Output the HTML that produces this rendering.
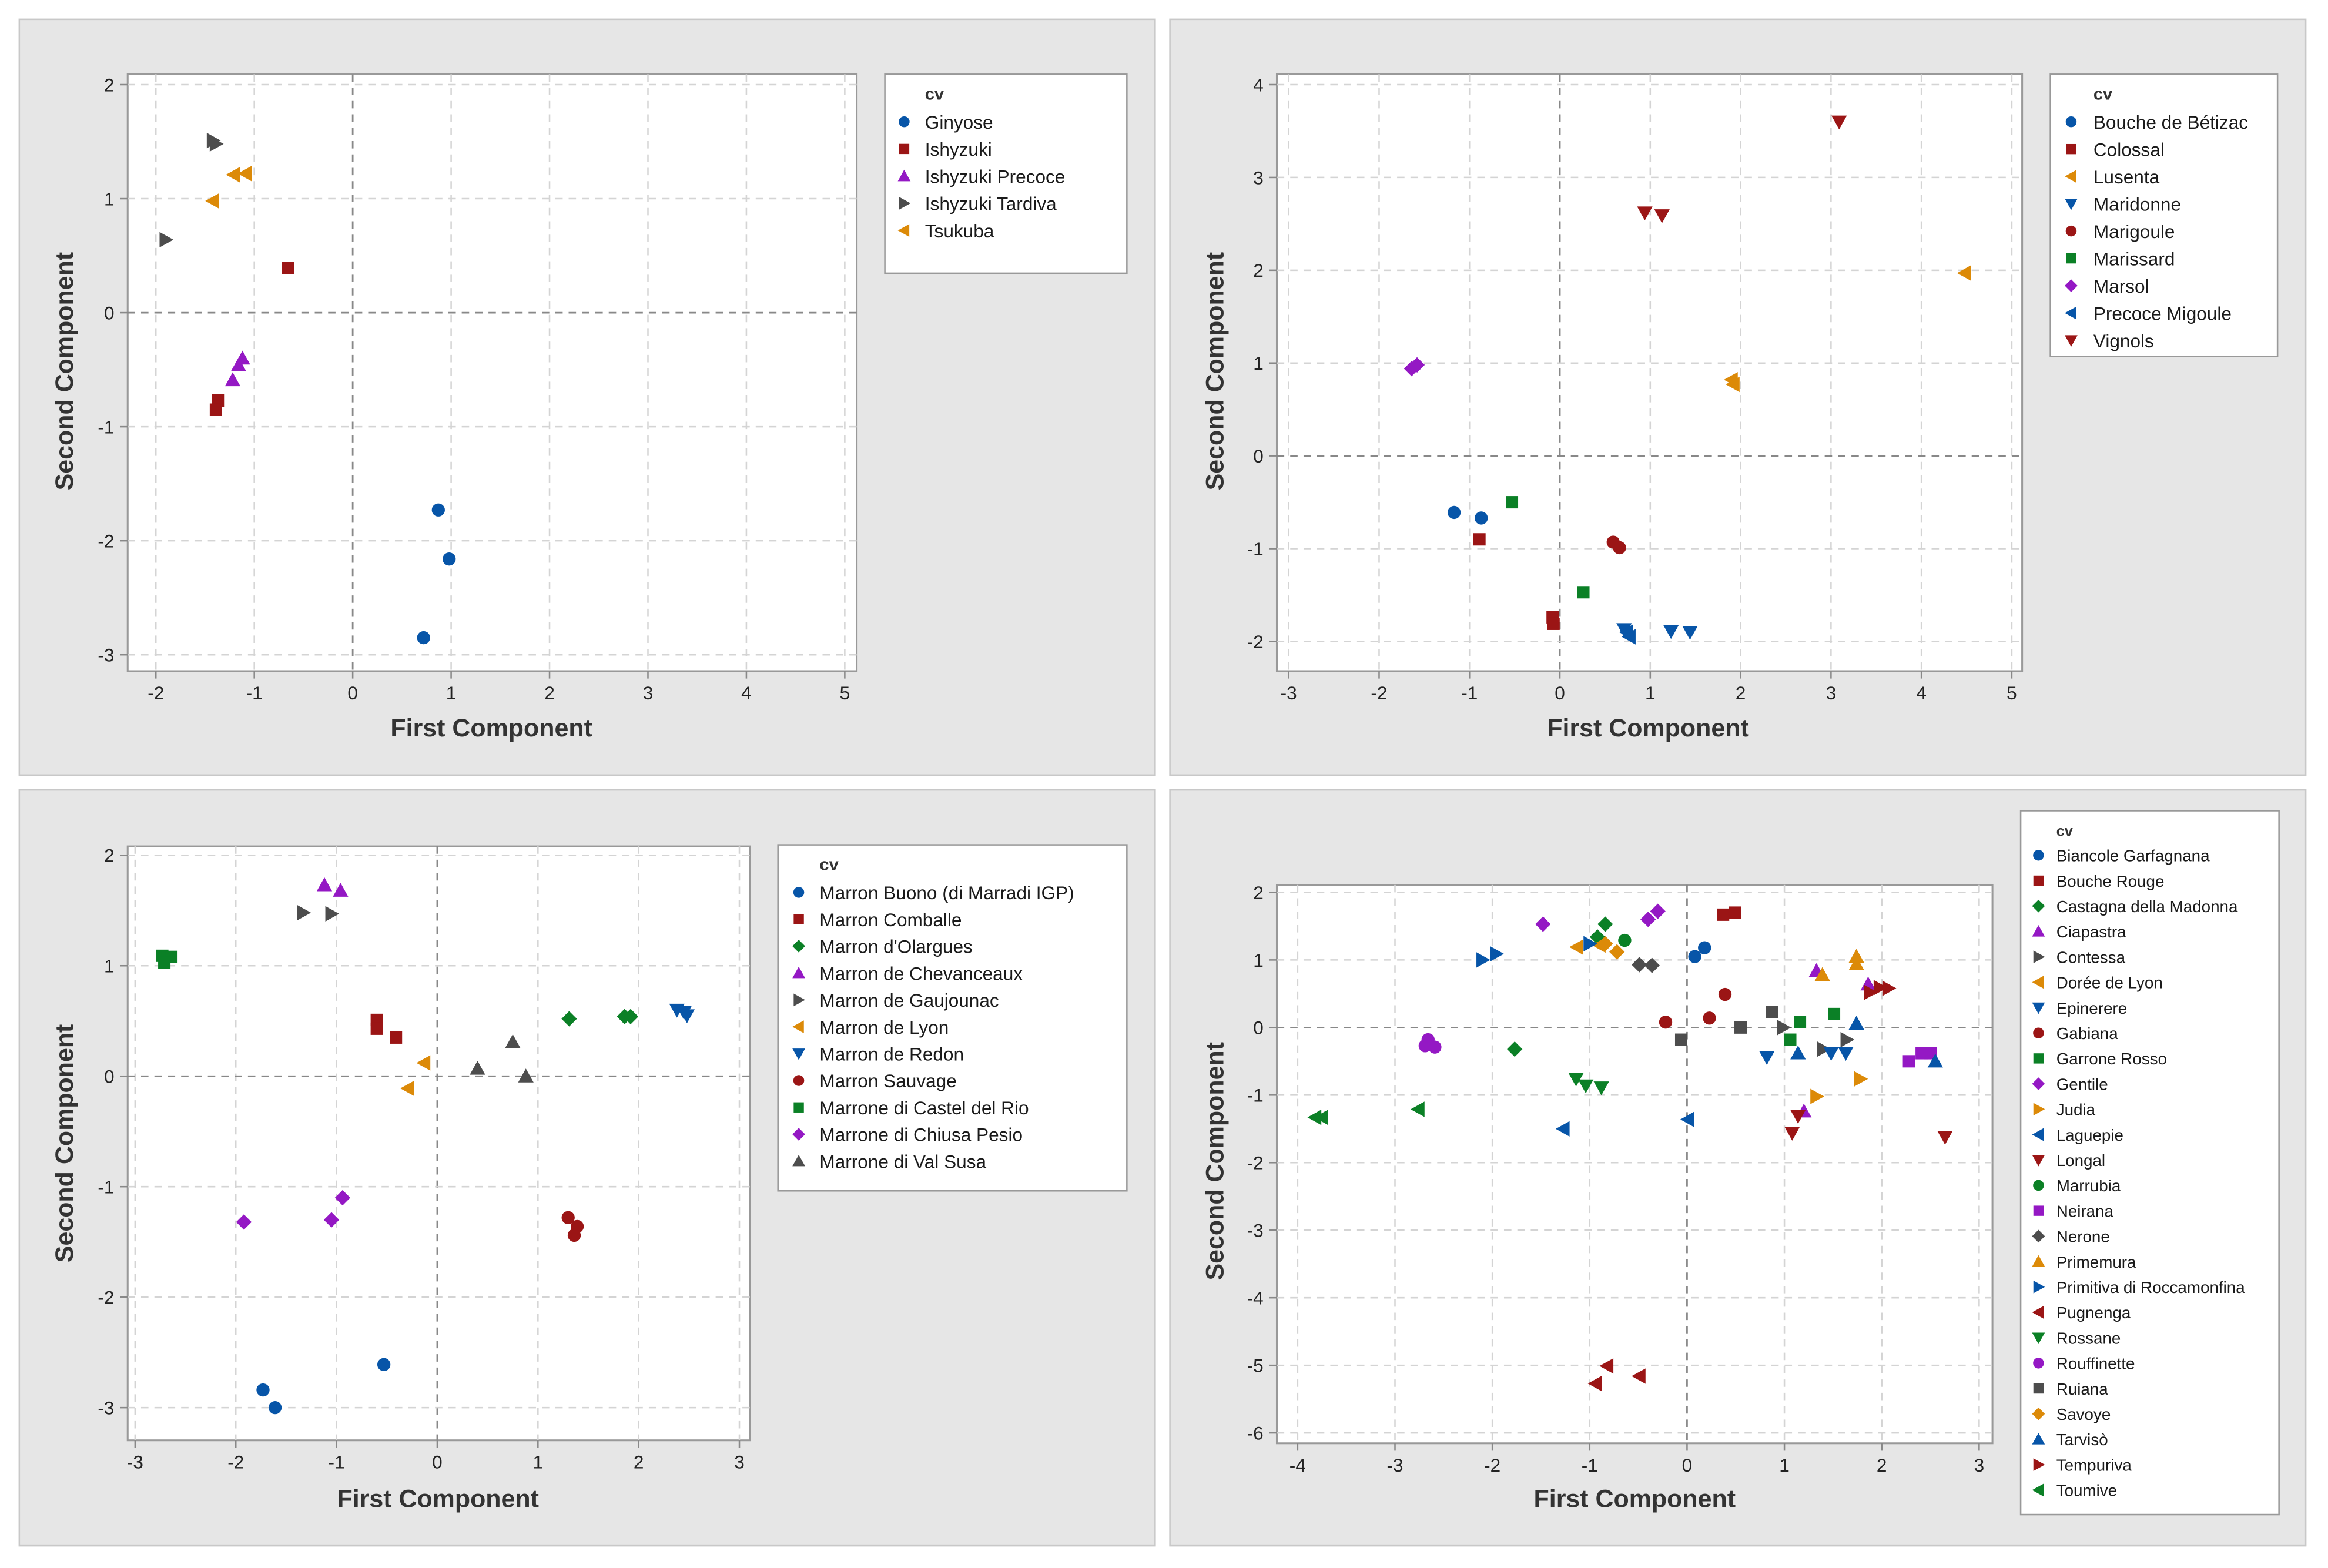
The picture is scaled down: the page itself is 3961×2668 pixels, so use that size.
<!DOCTYPE html>
<html><head><meta charset="utf-8"><style>
html,body{margin:0;padding:0;background:#fff}
svg{display:block}
text{font-family:"Liberation Sans",sans-serif}
</style></head><body>
<svg id="root" width="3961" height="2668" viewBox="0 0 1568 1056" preserveAspectRatio="none" xmlns="http://www.w3.org/2000/svg"></svg>
<script>
// ---------- Panel 1 data ----------
const p1Names = ["Ginyose","Ishyzuki","Ishyzuki Precoce","Ishyzuki Tardiva","Tsukuba"];
const p1X = [[0.87,0.98,0.72],[-0.66,-1.37,-1.39],[-1.12,-1.16,-1.22],[-1.42,-1.39,-1.90],[-1.21,-1.09,-1.42]];
const p1Y = [[-1.73,-2.16,-2.85],[0.39,-0.77,-0.85],[-0.40,-0.46,-0.59],[1.51,1.48,0.64],[1.21,1.22,0.98]];
const p1XTicks = [-2,-1,0,1,2,3,4,5];
const p1YTicks = [-3,-2,-1,0,1,2];
// ---------- Panel 2 data ----------
const p2Names = ["Bouche de Bétizac","Colossal","Lusenta","Maridonne","Marigoule","Marissard","Marsol","Precoce Migoule","Vignols"];
const p2X = [[-1.17,-0.87],[-0.89,-0.08,-0.07],[4.48,1.90,1.92],[0.71,1.23,1.44],[0.59,0.66],[-0.53,0.26],[-1.64,-1.58],[0.74,0.77],[3.09,0.94,1.13]];
const p2Y = [[-0.61,-0.67],[-0.90,-1.74,-1.81],[1.97,0.82,0.77],[-1.87,-1.89,-1.90],[-0.93,-0.99],[-0.50,-1.47],[0.94,0.98],[-1.90,-1.95],[3.60,2.62,2.59]];
const p2XTicks = [-3,-2,-1,0,1,2,3,4,5];
const p2YTicks = [-2,-1,0,1,2,3,4];
// ---------- Panel 3 data ----------
const p3Names = ["Marron Buono (di Marradi IGP)","Marron Comballe","Marron d'Olargues","Marron de Chevanceaux","Marron de Gaujounac","Marron de Lyon","Marron de Redon","Marron Sauvage","Marrone di Castel del Rio","Marrone di Chiusa Pesio","Marrone di Val Susa"];
const p3X = [[-0.53,-1.73,-1.61],[-0.60,-0.60,-0.41],[1.31,1.86,1.92],[-1.12,-0.96],[-1.33,-1.05],[-0.13,-0.29],[2.38,2.45,2.48],[1.30,1.39,1.36],[-2.73,-2.64,-2.71],[-1.92,-1.05,-0.94],[0.40,0.75,0.88]];
const p3Y = [[-2.61,-2.84,-3.0],[0.51,0.43,0.35],[0.52,0.54,0.54],[1.73,1.68],[1.48,1.47],[0.12,-0.11],[0.60,0.58,0.55],[-1.28,-1.36,-1.44],[1.09,1.08,1.03],[-1.32,-1.30,-1.10],[0.07,0.31,0.0]];
const p3XTicks = [-3,-2,-1,0,1,2,3];
const p3YTicks = [-3,-2,-1,0,1,2];
// ---------- Panel 4 data ----------
const p4Names = ["Biancole Garfagnana","Bouche Rouge","Castagna della Madonna","Ciapastra","Contessa","Dorée de Lyon","Epinerere","Gabiana","Garrone Rosso","Gentile","Judia","Laguepie","Longal","Marrubia","Neirana","Nerone","Primemura","Primitiva di Roccamonfina","Pugnenga","Rossane","Rouffinette","Ruiana","Savoye","Tarvisò","Tempuriva","Toumive"];
const p4X = [[0.08,0.18],[0.37,0.49],[-0.84,-0.92,-1.77],[1.33,1.86,1.20],[0.99,1.64,1.40],[-1.13,-0.90],[0.82,1.48,1.63],[0.39,0.23,-0.22],[1.16,1.51,1.06],[-1.48,-0.40,-0.30],[1.78,1.33],[-1.27,0.01],[1.14,1.08,2.65],[-0.64],[2.28,2.41,2.50],[-0.49,-0.36],[1.39,1.74,1.74],[-1.0,-2.10,-1.96],[-0.82,-0.94,-0.49],[-1.14,-1.04,-0.88],[-2.69,-2.59,-2.66],[0.87,0.55,-0.06],[-0.84,-0.72],[1.74,1.14,2.55],[1.98,2.07,1.88],[-3.82,-3.75,-2.76]];
const p4Y = [[1.05,1.18],[1.67,1.70],[1.53,1.34,-0.32],[0.84,0.64,-1.24],[0.0,-0.18,-0.32],[1.19,1.22],[-0.44,-0.38,-0.38],[0.49,0.14,0.08],[0.08,0.20,-0.18],[1.53,1.60,1.72],[-0.76,-1.02],[-1.50,-1.36],[-1.31,-1.56,-1.62],[1.29],[-0.50,-0.38,-0.38],[0.93,0.92],[0.78,0.94,1.05],[1.24,1.0,1.09],[-5.01,-5.27,-5.16],[-0.76,-0.86,-0.89],[-0.27,-0.29,-0.18],[0.23,0.0,-0.18],[1.24,1.12],[0.06,-0.38,-0.50],[0.59,0.58,0.52],[-1.33,-1.33,-1.21]];
const p4XTicks = [-4,-3,-2,-1,0,1,2,3];
const p4YTicks = [-6,-5,-4,-3,-2,-1,0,1,2];

const C = {b:"#0755a8",r:"#9b1515",g:"#0b8026",p:"#9418c4",k:"#4d4d4d",o:"#dc8a08"};
const p1Sty = [["b","circle"],["r","square"],["p","up"],["k","right"],["o","left"]];
const p2Sty = [["b","circle"],["r","square"],["o","left"],["b","down"],["r","circle"],["g","square"],["p","diamond"],["b","left"],["r","down"]];
const p3Sty = [["b","circle"],["r","square"],["g","diamond"],["p","up"],["k","right"],["o","left"],["b","down"],["r","circle"],["g","square"],["p","diamond"],["k","up"]];
const p4Sty = [["b","circle"],["r","square"],["g","diamond"],["p","up"],["k","right"],["o","left"],["b","down"],["r","circle"],["g","square"],["p","diamond"],["o","right"],["b","left"],["r","down"],["g","circle"],["p","square"],["k","diamond"],["o","up"],["b","right"],["r","left"],["g","down"],["p","circle"],["k","square"],["o","diamond"],["b","up"],["r","right"],["g","left"]];

const NS="http://www.w3.org/2000/svg";
const root=document.getElementById('root');
function mk(tag,attrs,parent){const e=document.createElementNS(NS,tag);for(const k in attrs)e.setAttribute(k,attrs[k]);(parent||root).appendChild(e);return e;}
function marker(g,shape,cx,cy,s,fill){
  let e;
  if(shape==="circle"){e=mk('circle',{cx:cx,cy:cy,r:s*0.85,fill:fill},g);}
  else if(shape==="square"){e=mk('rect',{x:cx-s*0.8,y:cy-s*0.8,width:s*1.6,height:s*1.6,fill:fill},g);}
  else{
    let pts;
    if(shape==="diamond")pts=[[0,-s],[s,0],[0,s],[-s,0]];
    else if(shape==="up")pts=[[0,-s],[s,s*0.8],[-s,s*0.8]];
    else if(shape==="down")pts=[[0,s],[s,-s*0.8],[-s,-s*0.8]];
    else if(shape==="right")pts=[[s,0],[-s*0.8,-s],[-s*0.8,s]];
    else pts=[[-s,0],[s*0.8,-s],[s*0.8,s]];
    e=mk('polygon',{points:pts.map(p=>(cx+p[0])+","+(cy+p[1])).join(" "),fill:fill},g);
  }
  return e;
}
function panel(id,P,names,xs,ys,sty,xt,yt,L,fs){
  const g=mk('g',{});
  
  
  const bg=mk('rect',{x:P.bx,y:P.by,width:765,height:509,fill:"#e6e6e6",stroke:"#c8c8c8","stroke-width":1},g);
  
  
  const pa=mk('rect',{x:P.x0,y:P.y0,width:P.x1-P.x0,height:P.y1-P.y0,fill:"#fff",stroke:"#999","stroke-width":1.2},g);
  
  
  const X=v=>P.xa+(v-xt[0])*(P.xb-P.xa)/(xt[xt.length-1]-xt[0]);
  const Y=v=>P.ya+(v-yt[yt.length-1])*(P.yb-P.ya)/(yt[0]-yt[yt.length-1]);
  xt.forEach(t=>{
    const x=X(t);
    const gl=mk('line',{x1:x,x2:x,y1:P.y0,y2:P.y1,stroke:t===0?"#888":"#d4d4d4","stroke-width":t===0?1.1:1,"stroke-dasharray":"5,4"},g);
    
    
    mk('line',{x1:x,x2:x,y1:P.y1,y2:P.y1+5,stroke:"#888"},g);
    const tl=mk('text',{x:x,y:P.y1+19,"font-size":12.5,"text-anchor":"middle",fill:"#222"},g);
    tl.textContent=t;
    
    
  });
  yt.forEach(t=>{
    const y=Y(t);
    const gl=mk('line',{x1:P.x0,x2:P.x1,y1:y,y2:y,stroke:t===0?"#888":"#d4d4d4","stroke-width":t===0?1.1:1,"stroke-dasharray":"5,4"},g);
    
    
    mk('line',{x1:P.x0-5,x2:P.x0,y1:y,y2:y,stroke:"#888"},g);
    const tl=mk('text',{x:P.x0-9,y:y+4.5,"font-size":12.5,"text-anchor":"end",fill:"#222"},g);
    tl.textContent=t;
    
    
  });
  const xtt=mk('text',{x:P.xtx,y:P.xty,"font-size":17,"font-weight":"bold","text-anchor":"middle",fill:"#333"},g);
  xtt.textContent="First Component";
  
  
  const ytt=mk('text',{x:0,y:0,"font-size":17,"font-weight":"bold","text-anchor":"middle",fill:"#333",transform:`translate(${P.ytx},${P.yty}) rotate(-90)`},g);
  ytt.textContent="Second Component";
  
  
  names.forEach((n,i)=>{
    const sg=mk('g',{},g);
    
    
    xs[i].forEach((xv,j)=>{
      const m=marker(sg,sty[i][1],X(xv),Y(ys[i][j]),5.2,C[sty[i][0]]);
      
      
    });
  });
  // legend
  const lg=mk('g',{},g);
  
  
  mk('rect',{x:L.x,y:L.y,width:L.w,height:L.h,fill:"#fff",stroke:"#999","stroke-width":1},lg);
  const cv=mk('text',{x:L.tx,y:L.cy,"font-size":fs-1,"font-weight":"bold",fill:"#333"},lg);
  cv.textContent="cv";
  
  
  names.forEach((n,i)=>{
    const y=L.iy+i*L.dy;
    const le=mk('g',{},lg);
    
    
    marker(le,sty[i][1],L.sx,y,4.3,C[sty[i][0]]);
    const t=mk('text',{x:L.tx,y:y+fs*0.37,"font-size":fs,fill:"#1a1a1a"},le);
    t.textContent=n;
  });
}
panel('panel-top-left',{bx:13,by:13,x0:86,x1:577,y0:50,y1:452,xa:105,xb:569,ya:57,yb:441,xtx:331,xty:496,ytx:49,yty:250},
  p1Names,p1X,p1Y,p1Sty,p1XTicks,p1YTicks,{x:596,y:50,w:163,h:134,cy:67,iy:82,dy:18.3,sx:609,tx:623},12.5);
panel('panel-top-right',{bx:788,by:13,x0:860,x1:1362,y0:50,y1:452,xa:868,xb:1355,ya:57,yb:432,xtx:1110,xty:496,ytx:824,yty:250},
  p2Names,p2X,p2Y,p2Sty,p2XTicks,p2YTicks,{x:1381,y:50,w:153,h:190,cy:67,iy:82,dy:18.4,sx:1395,tx:1410},12.5);
panel('panel-bottom-left',{bx:13,by:532,x0:86,x1:505,y0:570,y1:970,xa:91,xb:498,ya:576,yb:948,xtx:295,xty:1015,ytx:49,yty:770},
  p3Names,p3X,p3Y,p3Sty,p3XTicks,p3YTicks,{x:524,y:569,w:235,h:233,cy:586,iy:601,dy:18.1,sx:538,tx:552},12.5);
panel('panel-bottom-right',{bx:788,by:532,x0:860,x1:1342,y0:596,y1:972,xa:874,xb:1333,ya:601,yb:965,xtx:1101,xty:1015,ytx:824,yty:782},
  p4Names,p4X,p4Y,p4Sty,p4XTicks,p4YTicks,{x:1361,y:546,w:174,h:474,cy:563,iy:576,dy:17.1,sx:1373,tx:1385},11);
</script>
</body></html>
